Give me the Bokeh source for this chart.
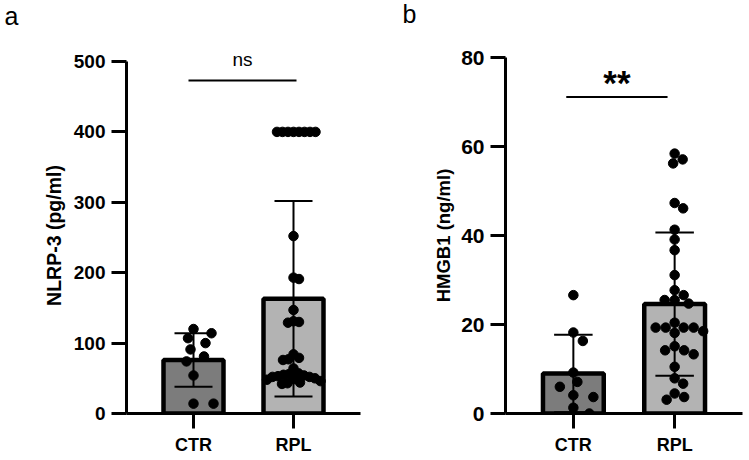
from bokeh.embed import file_html
from bokeh.layouts import row
from bokeh.models import FixedTicker, Label, Range1d
from bokeh.plotting import figure
from bokeh.resources import INLINE

# ---------------------------------------------------------------- data
groups = ["CTR", "RPL"]

# a: NLRP-3 (pg/ml)
nlrp3_ctr = [120, 114, 107, 100, 91, 81, 74, 54, 14, 14]
nlrp3_rpl = [400, 400, 400, 400, 400, 400, 400, 400,
             252, 193, 191, 147, 131, 130, 129,
             84, 79, 77, 76, 64,
             57, 56, 55, 54, 53, 52, 52, 50, 49, 48, 46, 44, 43, 42]
nlrp3_mean = [76, 163]
nlrp3_sd = [38, 139]
nlrp3_ticks = [0, 100, 200, 300, 400, 500]

# b: HMGB1 (ng/ml)
hmgb1_ctr = [26.6, 18.2, 16.3, 9.2, 7.1, 6.0, 4.1, 3.7, 1.3, 0.0]
hmgb1_rpl = [58.4, 57.1, 56.2, 47.3, 46.1, 41.3, 39.1, 36.7, 31.1,
             27.7, 26.6, 25.5, 25.5, 24.7, 20.4, 19.3, 19.3, 19.3, 19.3,
             18.5, 18.1, 15.1, 14.2, 14.2, 13.3, 10.5, 7.9, 6.7, 4.5, 3.7, 3.1]
hmgb1_mean = [9.0, 24.6]
hmgb1_sd = [8.7, 16.1]
hmgb1_ticks = [0, 20, 40, 60, 80]

BAR_COLORS = ["#7c7c7c", "#b3b3b3"]
FONT = "Liberation Sans"
HEIGHT = 460
BORDER_TOP = 57       # shared by both panels (row aligns the frames)
BORDER_BOTTOM = 47


def swarm_offsets(vals, px_per_x, px_per_y, min_dx, min_dy):
    """Beeswarm layout: horizontal offsets (data units) keeping dots apart."""
    order = sorted(range(len(vals)), key=lambda i: -vals[i])
    placed = []
    offs = [0.0] * len(vals)
    cands = [0.0]
    for k in range(1, 400):
        cands += [k * 0.5, -k * 0.5]
    for i in order:
        y = vals[i] * px_per_y
        for c in cands:
            if all(((c - xo) / min_dx) ** 2 + ((y - yo) / min_dy) ** 2 >= 1.0
                   for xo, yo in placed):
                placed.append((c, y))
                offs[i] = c / px_per_x
                break
    return offs


def panel(letter, ylabel, ctr, rpl, mean, sd, ticks, ymax, width, border_left,
          border_right, axis_top, label_standoff, label_font, tick_font,
          spread, letter_pos, letter_side, sig_text, sig_x, sig_y, sig_font,
          sig_style, sig_text_y):
    frame_w = width - border_left - border_right
    frame_h = HEIGHT - BORDER_TOP - BORDER_BOTTOM
    px_x = frame_w / (2.67 - 0.33)
    # the value axis runs from 0 up to ymax, which may sit a little below
    # the top of the frame
    px_y = (frame_h - (axis_top - BORDER_TOP)) / ymax
    y_end = frame_h / px_y

    p = figure(width=width, height=HEIGHT, output_backend="svg",
               toolbar_location=None, x_range=Range1d(0.33, 2.67),
               y_range=Range1d(0, y_end), min_border_left=border_left,
               min_border_right=border_right, min_border_top=BORDER_TOP,
               min_border_bottom=BORDER_BOTTOM)
    p.outline_line_color = None
    p.grid.visible = False
    p.background_fill_color = "white"
    p.border_fill_color = "white"

    # bars
    p.vbar(x=[1, 2], top=mean, bottom=0, width=0.6, fill_color=BAR_COLORS,
           line_color="black", line_width=4.5)

    # mean +/- SD error bars
    lo = [m - s for m, s in zip(mean, sd)]
    hi = [m + s for m, s in zip(mean, sd)]
    p.segment(x0=[1, 2], x1=[1, 2], y0=lo, y1=hi, line_color="black", line_width=2)
    cap = 0.19
    p.segment(x0=[1 - cap, 2 - cap, 1 - cap, 2 - cap],
              x1=[1 + cap, 2 + cap, 1 + cap, 2 + cap],
              y0=hi + lo, y1=hi + lo, line_color="black", line_width=2)

    # individual values
    for gx, vals, min_dx in ((1, ctr, spread[0]), (2, rpl, spread[1])):
        offs = swarm_offsets(vals, px_x, px_y, min_dx, 9.5)
        p.scatter(x=[gx + o for o in offs], y=vals, size=9.5,
                  fill_color="black", line_color="black")

    # significance bracket (text kept in the left border panel so it is not
    # clipped by the frame and does not add height above the plot)
    p.line(x=sig_x, y=[sig_y, sig_y], line_color="black", line_width=2)
    p.add_layout(Label(x=sum(sig_x) / 2, y=sig_text_y, text=sig_text,
                       text_align="center", text_baseline="alphabetic",
                       text_font=FONT, text_font_size=sig_font,
                       text_font_style=sig_style, text_color="black"), "left")

    # panel letter
    lx, ly = letter_pos
    p.add_layout(Label(x=0.33 - (border_left - lx) / px_x,
                       y=ymax + (axis_top - ly) / px_y, text=letter,
                       text_align="left", text_baseline="alphabetic",
                       text_font=FONT, text_font_size="25px",
                       text_color="black"), letter_side)

    # axes
    for ax in (p.xaxis[0], p.yaxis[0]):
        ax.axis_line_width = 3
        ax.axis_line_color = "black"
        ax.major_tick_line_width = 3
        ax.major_tick_line_color = "black"
        ax.major_tick_out = 15
        ax.major_tick_in = 0
        ax.minor_tick_line_color = None
        ax.major_label_text_font = FONT
        ax.major_label_text_font_style = "bold"
        ax.major_label_text_color = "black"
        ax.major_label_standoff = 6

    p.xaxis.ticker = FixedTicker(ticks=[1, 2])
    p.xaxis.major_label_overrides = {1: groups[0], 2: groups[1]}
    p.xaxis.major_label_text_font_size = "18px"

    p.yaxis.bounds = (0, ymax)
    p.yaxis.ticker = FixedTicker(ticks=ticks)
    p.yaxis.major_label_text_font_size = tick_font
    p.yaxis.axis_label = ylabel
    p.yaxis.axis_label_text_font = FONT
    p.yaxis.axis_label_text_font_style = "bold"
    p.yaxis.axis_label_text_font_size = label_font
    p.yaxis.axis_label_text_color = "black"
    p.yaxis.axis_label_standoff = label_standoff
    return p


pa = panel("a", "NLRP-3 (pg/ml)", nlrp3_ctr, nlrp3_rpl, nlrp3_mean, nlrp3_sd,
           nlrp3_ticks, 500, width=375, border_left=126, border_right=15,
           axis_top=61, label_standoff=6, label_font="19.5px",
           tick_font="19px", spread=(20, 5.5),
           letter_pos=(4, 15), letter_side="above",
           sig_text="ns", sig_x=[0.95, 2.03], sig_y=473, sig_font="19px",
           sig_style="normal", sig_text_y=503)

pb = panel("b", "HMGB1 (ng/ml)", hmgb1_ctr, hmgb1_rpl, hmgb1_mean, hmgb1_sd,
           hmgb1_ticks, 80, width=374, border_left=130, border_right=7,
           axis_top=57, label_standoff=4, label_font="18.5px",
           tick_font="21px", spread=(20, 10),
           letter_pos=(27, 13), letter_side="left",
           sig_text="**", sig_x=[0.93, 1.93], sig_y=71.1, sig_font="35px",
           sig_style="bold", sig_text_y=74.3)

layout = row(pa, pb, spacing=0)
open("out.html", "w").write(file_html(layout, INLINE))
